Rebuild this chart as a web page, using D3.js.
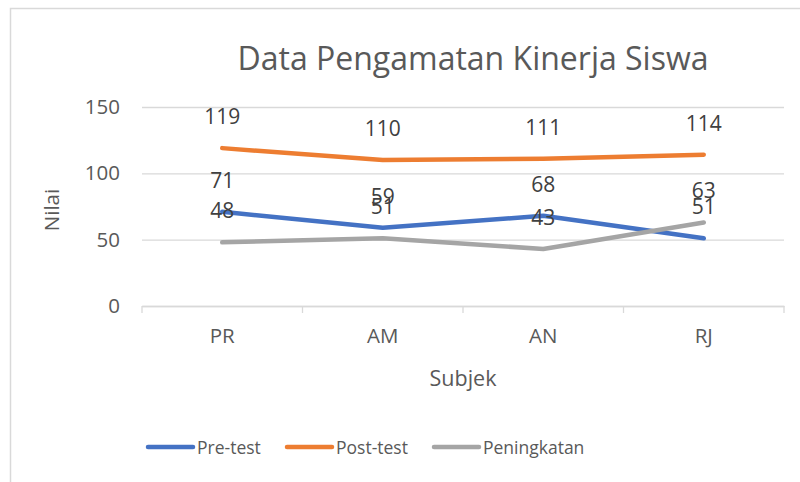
<!DOCTYPE html>
<html><head><meta charset="utf-8">
<script src="https://cdn.jsdelivr.net/npm/d3@7"></script>
<style>body{margin:0;background:#fff}svg{display:block}text{font-family:"Open Sans",sans-serif}</style>
</head><body><svg id="c" width="800" height="482"></svg>
<script>
const categories = ["PR", "AM", "AN", "RJ"];
const preTest = [71, 59, 68, 51];
const postTest = [119, 110, 111, 114];
const peningkatan = [48, 51, 43, 63];
const seriesNames = ["Pre-test", "Post-test", "Peningkatan"];
const yTicks = [0, 50, 100, 150];
const colors = ["#4472C4", "#ED7D31", "#A5A5A5"];

const series = [preTest, postTest, peningkatan].map((v, i) => ({name: seriesNames[i], values: v, color: colors[i]}));
const svg = d3.select("#c");
svg.append("rect").attr("x", 10.5).attr("y", 8.5).attr("width", 900).attr("height", 600)
  .attr("fill", "#fff").attr("stroke", "#d9d9d9").attr("stroke-width", 1.5);

const L = 142, R = 784, T = 107, B = 306;
const x = d3.scaleBand().domain(categories).range([L, R]);
const y = d3.scaleLinear().domain([0, 150]).range([B, T]);

svg.append("text").attr("x", 473).attr("y", 57).attr("text-anchor", "middle").attr("dominant-baseline", "central")
  .attr("font-size", 32).attr("fill", "#595959").text("Data Pengamatan Kinerja Siswa");

const gy = svg.append("g").attr("transform", `translate(${L},0)`)
  .call(d3.axisLeft(y).tickValues(yTicks).tickSize(-(R - L)).tickPadding(22));
gy.select(".domain").remove();
gy.selectAll(".tick line").attr("stroke", "#d9d9d9").attr("stroke-width", 1.3);
gy.selectAll(".tick text").attr("font-size", 20.5).attr("fill", "#595959");

const gx = svg.append("g").attr("transform", `translate(0,${B})`)
  .call(d3.axisBottom(x).tickSize(0).tickPadding(22));
gx.select(".domain").attr("stroke", "#d9d9d9").attr("stroke-width", 1.3);
gx.selectAll(".tick text").attr("font-size", 20.5).attr("fill", "#595959");
// category boundary ticks
const bounds = categories.map(c => x(c)).concat([R]);
svg.append("g").selectAll("line").data(bounds).join("line")
  .attr("x1", d => d).attr("x2", d => d).attr("y1", B).attr("y2", B + 7)
  .attr("stroke", "#d9d9d9").attr("stroke-width", 1.3);

const cx = c => x(c) + x.bandwidth() / 2;
const line = d3.line().x((d, i) => cx(categories[i])).y(d => y(d));
series.forEach(s => {
  svg.append("path").attr("d", line(s.values)).attr("fill", "none").attr("stroke", s.color)
    .attr("stroke-width", 4.5).attr("stroke-linecap", "round").attr("stroke-linejoin", "round");
});
series.forEach(s => {
  svg.append("g").selectAll("text").data(s.values).join("text")
    .attr("x", (d, i) => cx(categories[i])).attr("y", d => y(d) - 32)
    .attr("text-anchor", "middle").attr("dominant-baseline", "central")
    .attr("font-size", 21).attr("fill", "#404040").text(d => d);
});

svg.append("text").attr("transform", "translate(51,210) rotate(-90)").attr("text-anchor", "middle")
  .attr("dominant-baseline", "central").attr("font-size", 20.5).attr("fill", "#595959").text("Nilai");
svg.append("text").attr("x", 463).attr("y", 377).attr("text-anchor", "middle")
  .attr("dominant-baseline", "central").attr("font-size", 21.5).attr("fill", "#595959").text("Subjek");

const legX = [148, 287, 434];
series.forEach((s, i) => {
  const g = svg.append("g").attr("transform", `translate(${legX[i]},447)`);
  g.append("line").attr("x1", 0).attr("x2", 45).attr("stroke", s.color).attr("stroke-width", 4.5).attr("stroke-linecap", "round");
  g.append("text").attr("x", 49).attr("dominant-baseline", "central").attr("font-size", 17.5).attr("fill", "#595959").text(s.name);
});
</script></body></html>
